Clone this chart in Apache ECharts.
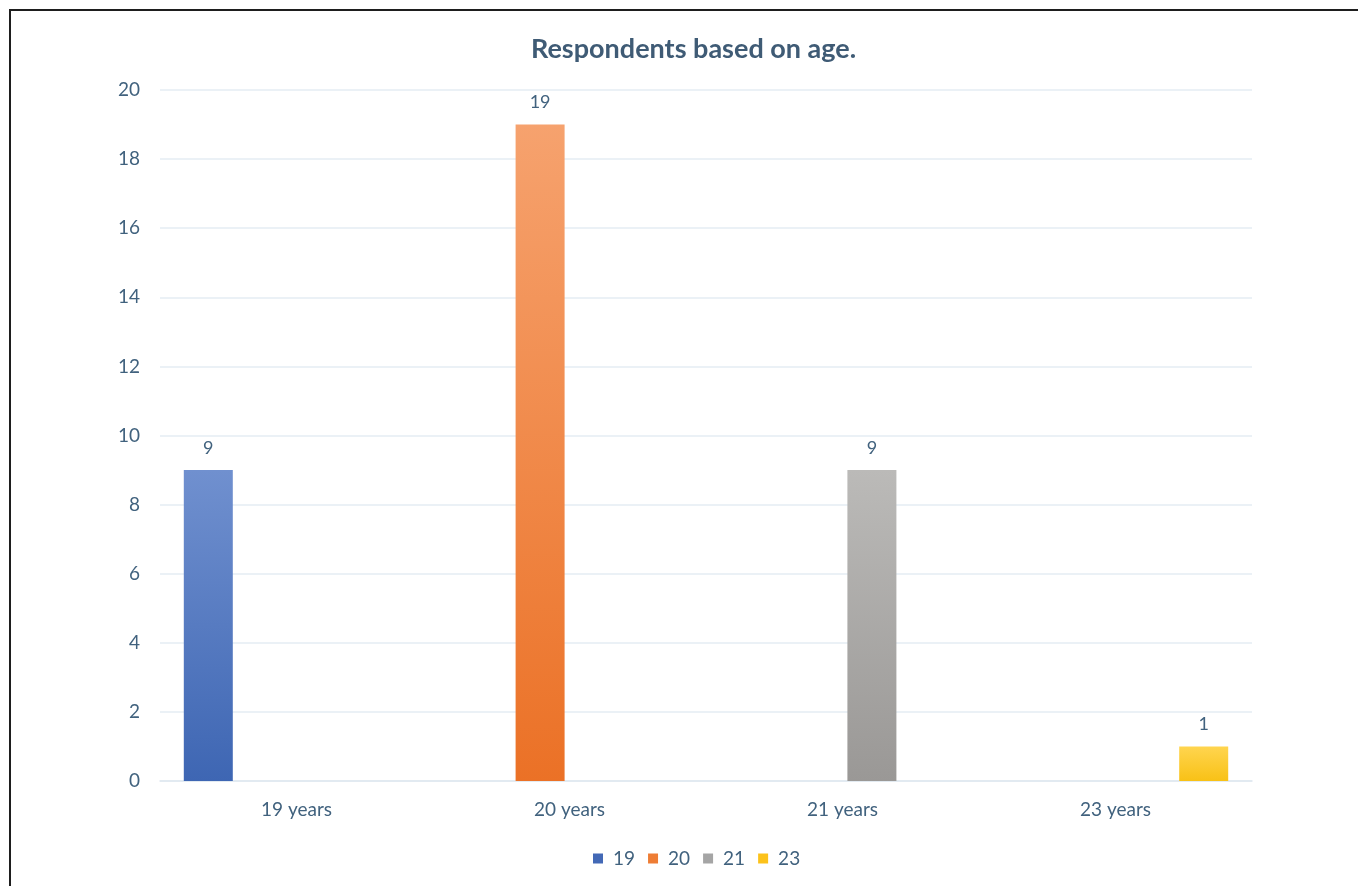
<!DOCTYPE html>
<html><head><meta charset="utf-8">
<script src="https://cdn.jsdelivr.net/npm/echarts@6/dist/echarts.min.js"></script>
<style>html,body{margin:0;padding:0;background:#fff}#c{width:1358px;height:886px}</style>
</head><body><div id="c"></div>
<script>
const categories = ['19 years', '20 years', '21 years', '23 years'];
const seriesNames = ['19', '20', '21', '23'];
const values19 = [9, '-', '-', '-'];
const values20 = ['-', 19, '-', '-'];
const values21 = ['-', '-', 9, '-'];
const values23 = ['-', '-', '-', 1];
const yTicks = { min: 0, max: 20, interval: 2 };

const txt = '#41627e';
const font = 'Lato, "Open Sans", sans-serif';
function grad(top, bottom) {
  return new echarts.graphic.LinearGradient(0, 0, 0, 1, [{offset: 0, color: top}, {offset: 1, color: bottom}]);
}
const fills = [
  grad('#7090cf', '#3e66b3'),
  grad('#f6a26e', '#eb7126'),
  grad('#bbbab8', '#9a9896'),
  grad('#ffd54f', '#f8c116')
];
const legendColors = ['#4369b6', '#ee7d35', '#a5a5a5', '#fcc21b'];
const allValues = [values19, values20, values21, values23];

const chart = echarts.init(document.getElementById('c'));
chart.setOption({
  backgroundColor: '#fff',
  animation: false,
  title: {
    text: 'Respondents based on age.',
    left: 526, top: 31,
    textStyle: { fontFamily: font, fontSize: 27, fontWeight: 'bold', color: '#3f5b75' }
  },
  graphic: [{
    type: 'rect', shape: { x: 10, y: 10, width: 1400, height: 950 },
    style: { fill: 'none', stroke: '#1e1e1e', lineWidth: 2 }, silent: true, z: 100
  }],
  legend: {
    bottom: 13, left: 588,
    itemWidth: 10, itemHeight: 10, itemGap: 13,
    icon: 'rect',
    textStyle: { fontFamily: font, fontSize: 19, color: txt, padding: [0, 0, 0, 5] },
    data: seriesNames.map((n, i) => ({ name: n, itemStyle: { color: legendColors[i] } }))
  },
  grid: { left: 160, right: 106, top: 90, bottom: 105 },
  xAxis: {
    type: 'category', data: categories,
    axisLine: { show: true, lineStyle: { color: '#dfe7ef', width: 1.5 } },
    axisTick: { show: false },
    axisLabel: { fontFamily: font, fontSize: 19, color: txt, margin: 19 }
  },
  yAxis: {
    type: 'value', min: yTicks.min, max: yTicks.max, interval: yTicks.interval,
    axisLine: { show: false }, axisTick: { show: false },
    splitLine: { lineStyle: { color: '#e5edf3', width: 1.5 } },
    axisLabel: { fontFamily: font, fontSize: 19, color: txt, margin: 20 }
  },
  series: seriesNames.map((n, i) => ({
    name: n, type: 'bar', data: allValues[i],
    barWidth: 49, barGap: '20%',
    itemStyle: { color: fills[i] },
    label: { show: true, position: 'top', distance: 13, fontFamily: font, fontSize: 18, color: txt }
  }))
});
</script></body></html>
